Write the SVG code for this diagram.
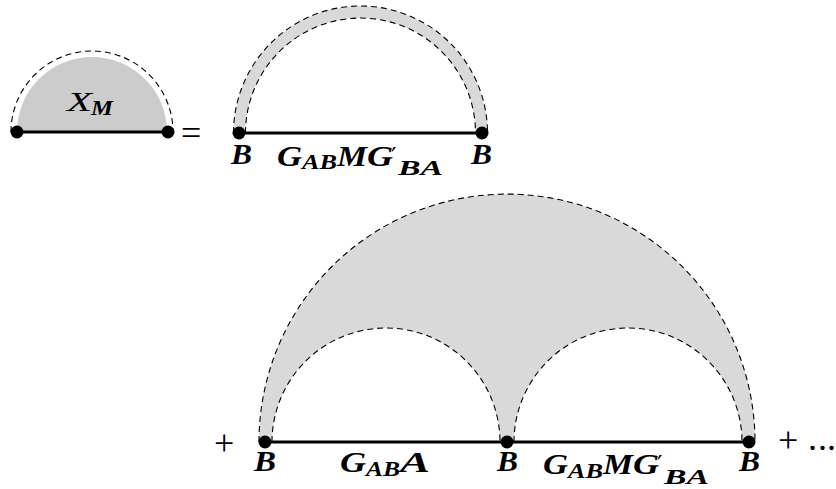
<svg xmlns="http://www.w3.org/2000/svg" width="836" height="489" viewBox="0 0 836 489">
<style>
.dash{fill:none;stroke:#000;stroke-width:1.1;stroke-dasharray:6 4}
.line{stroke:#000;stroke-width:3.2}
.dot{fill:#000}
.b{font-family:"Liberation Serif",serif;font-style:italic;font-weight:bold;font-size:30px}
.s{font-family:"Liberation Serif",serif;font-style:italic;font-weight:bold;font-size:22px}
.p{font-family:"DejaVu Serif",serif;font-size:24px}
.r{font-family:"Liberation Serif",serif;font-size:36px}
.xi{font-family:"Liberation Serif",serif;font-style:italic;font-size:27px}
.xm{font-family:"Liberation Serif",serif;font-style:italic;font-weight:bold;font-size:20px}
</style>
<rect width="836" height="489" fill="#fff"/>
<g id="node-XM">
<path d="M17 132 A75 75 0 0 1 167 132 Z" fill="#cccccc"/>
<path class="dash" d="M11 132 A81 81 0 0 1 173 132"/>
<text class="xi" x="67" y="111" textLength="25" lengthAdjust="spacingAndGlyphs">X</text>
<text class="xm" x="91" y="115" textLength="22" lengthAdjust="spacingAndGlyphs">M</text>
</g>
<g id="eq">
<text class="r" x="181" y="145">=</text>
</g>
<g id="node-top">
<path d="M233.5 133 A127 127 0 0 1 487.5 133 L475.5 133 A115 115 0 0 0 245.5 133 Z" fill="#d9d9d9"/>
<path class="dash" d="M233.5 133 A127 127 0 0 1 487.5 133"/>
<path class="dash" d="M245.5 133 A115 115 0 0 1 475.5 133"/>
</g>
<g id="node-bottom">
<path d="M259 442 A248 248 0 0 1 755 442 L742 442 A114 114 0 0 0 514 442 L500 442 A114 114 0 0 0 272 442 Z" fill="#d9d9d9"/>
<path class="dash" d="M259 442 A248 248 0 0 1 755 442"/>
<path class="dash" d="M272 442 A114 114 0 0 1 500 442"/>
<path class="dash" d="M514 442 A114 114 0 0 1 742 442"/>
</g>
<g id="connectors">
<line class="line" x1="17" y1="132" x2="168" y2="132"/>
<line class="line" x1="239" y1="133" x2="482" y2="133"/>
<line class="line" x1="265" y1="442" x2="749" y2="442"/>
</g>
<g id="dots">
<circle class="dot" cx="17" cy="132" r="6.5"/>
<circle class="dot" cx="168" cy="132" r="6.5"/>
<circle class="dot" cx="239" cy="133" r="6.5"/>
<circle class="dot" cx="482" cy="133" r="6.5"/>
<circle class="dot" cx="265" cy="442" r="6.5"/>
<circle class="dot" cx="507" cy="442" r="6.5"/>
<circle class="dot" cx="749" cy="442" r="6.5"/>
</g>
<g id="labels-top">
<text class="b" x="231" y="164" textLength="21" lengthAdjust="spacingAndGlyphs">B</text>
<text class="b" x="277" y="166" textLength="25" lengthAdjust="spacingAndGlyphs">G</text>
<text class="s" x="302" y="169" textLength="35" lengthAdjust="spacingAndGlyphs">AB</text>
<text class="b" x="337" y="166" textLength="30" lengthAdjust="spacingAndGlyphs">M</text>
<text class="b" x="367" y="166" textLength="26" lengthAdjust="spacingAndGlyphs">G</text>
<text class="p" x="391" y="165">′</text>
<text class="s" x="398" y="175" textLength="45" lengthAdjust="spacingAndGlyphs">BA</text>
<text class="b" x="471" y="164" textLength="21" lengthAdjust="spacingAndGlyphs">B</text>
</g>
<g id="labels-bottom">
<text class="r" x="214" y="455">+</text>
<text class="b" x="254" y="471" textLength="22" lengthAdjust="spacingAndGlyphs">B</text>
<text class="b" x="340" y="472" textLength="26" lengthAdjust="spacingAndGlyphs">G</text>
<text class="s" x="366" y="476" textLength="34" lengthAdjust="spacingAndGlyphs">AB</text>
<text class="b" x="400" y="472" textLength="30" lengthAdjust="spacingAndGlyphs">A</text>
<text class="b" x="497" y="471" textLength="21" lengthAdjust="spacingAndGlyphs">B</text>
<text class="b" x="543" y="474" textLength="25" lengthAdjust="spacingAndGlyphs">G</text>
<text class="s" x="568" y="478" textLength="35" lengthAdjust="spacingAndGlyphs">AB</text>
<text class="b" x="603" y="474" textLength="30" lengthAdjust="spacingAndGlyphs">M</text>
<text class="b" x="633" y="474" textLength="26" lengthAdjust="spacingAndGlyphs">G</text>
<text class="p" x="657" y="473">′</text>
<text class="s" x="664" y="484" textLength="45" lengthAdjust="spacingAndGlyphs">BA</text>
<text class="b" x="739" y="471" textLength="21" lengthAdjust="spacingAndGlyphs">B</text>
<text class="r" x="778" y="452">+</text>
<text class="r" x="808 818 827" y="450">...</text>
</g>
</svg>
